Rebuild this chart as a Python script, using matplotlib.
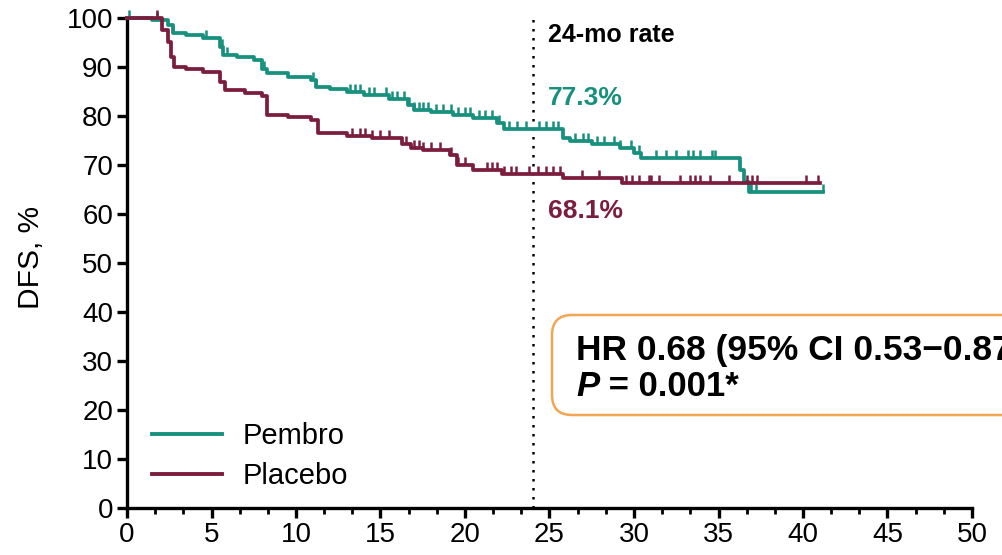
"""Kaplan-Meier DFS plot, pembro vs placebo"""

import numpy as np
import matplotlib.pyplot as plt
from matplotlib.patches import FancyBboxPatch
from matplotlib.text import Annotation
from matplotlib.ticker import MultipleLocator

plt.rcParams['font.family'] = ['Liberation Sans', 'DejaVu Sans']

# step curves: time (months) and DFS (%) after each step
pembro_t = [0, 1.5, 2.4, 2.7, 3.5, 4.5, 5.5, 5.7, 6.5, 7.5, 8.0, 8.3, 9.5, 10.9, 11.2, 12.0,
            13.0, 14.0, 15.5, 16.6, 17.0, 18.0, 19.3, 20.5, 21.9, 22.3, 25.8, 26.2, 27.5,
            29.2, 30.0, 30.4, 36.3, 36.5, 36.8, 41.2]
pembro_s = [100, 99.5, 98.5, 97.0, 96.5, 96.0, 94.0, 92.4, 92.0, 91.4, 89.5, 88.7, 88.0, 87.3,
            86.0, 85.5, 84.8, 84.3, 83.5, 82.3, 81.2, 80.8, 80.3, 79.6, 78.5, 77.3, 75.5, 74.8,
            74.2, 73.5, 72.4, 71.4, 69.0, 66.5, 64.5, 64.5]
placebo_t = [0, 2.1, 2.4, 2.6, 2.8, 3.5, 4.5, 5.5, 5.8, 7.0, 8.0, 8.3, 9.5, 10.9, 11.3, 13.0,
             14.5, 16.3, 16.8, 17.5, 19.1, 19.5, 20.5, 22.2, 25.8, 29.3, 41.0]
placebo_s = [100, 97.5, 95.0, 92.0, 90.0, 89.5, 89.0, 87.0, 85.3, 84.7, 84.0, 80.2, 79.7, 79.2,
             76.5, 76.0, 75.5, 74.3, 73.5, 73.0, 72.0, 70.0, 69.0, 68.1, 67.3, 66.3, 66.3]

# censoring times
pembro_cens = [0.1, 1.8, 2.7, 4.7, 5.6, 5.9, 8.1, 11.0, 11.2, 13.2, 13.5, 13.8, 14.3, 14.6,
               15.3, 15.7, 16.0, 16.4, 16.7, 17.0, 17.3, 17.5, 17.8, 18.3, 18.7, 19.2, 19.6,
               20.0, 20.3, 20.8, 21.2, 21.6, 22.0, 22.6, 23.1, 23.6, 24.4, 24.8, 25.2, 25.5,
               26.5, 27.0, 27.3, 27.8, 28.2, 28.8, 29.2, 29.8, 30.3, 31.3, 31.9, 32.5, 33.2,
               33.5, 33.9, 34.6, 34.8, 36.9, 37.2, 41.2]
placebo_cens = [1.8, 13.3, 13.8, 14.1, 14.5, 15.0, 15.5, 16.5, 17.0, 17.3, 17.5, 18.0, 18.5,
                19.2, 19.6, 20.0, 21.3, 21.6, 21.9, 22.3, 22.7, 23.0, 23.8, 24.3, 24.8, 25.2,
                25.6, 26.9, 27.9, 29.5, 29.9, 30.3, 30.9, 31.0, 31.5, 32.7, 33.3, 33.6, 33.9,
                34.5, 35.6, 36.7, 37.0, 37.3, 40.2, 40.9]

rate_24 = {"Pembro": 77.3, "Placebo": 68.1}

TEAL = "#17907e"
MAROON = "#7c1d3e"

W, H = 1002, 555
fig = plt.figure(figsize=(W / 100, H / 100), dpi=100)
ax = fig.add_axes([127 / W, 47 / H, 845 / W, 490 / H])


def surv_at(times, surv, t):
    idx = np.searchsorted(times, t, side="right") - 1
    return np.asarray(surv)[idx]


for t, s, cens, col, lab in [(pembro_t, pembro_s, pembro_cens, TEAL, "Pembro"),
                             (placebo_t, placebo_s, placebo_cens, MAROON, "Placebo")]:
    ax.step(t, s, where="post", color=col, lw=2.7, label=lab, clip_on=False, zorder=3)
    ax.plot(cens, surv_at(t, s, cens), ls="none", marker=2, ms=6, mew=1.8,
            color=col, clip_on=False, zorder=3)

ax.axvline(24, color="black", ls=(0, (1, 2.6)), lw=1.8, zorder=2)

ax.set_xlim(0, 50)
ax.set_ylim(0, 100)
ax.xaxis.set_major_locator(MultipleLocator(5))
ax.xaxis.set_minor_locator(MultipleLocator(5 / 3))
ax.yaxis.set_major_locator(MultipleLocator(10))
for side in ["top", "right"]:
    ax.spines[side].set_visible(False)
for side in ["left", "bottom"]:
    ax.spines[side].set_linewidth(2.4)
ax.tick_params(which="major", length=7, width=2.4, labelsize=20, pad=3)
ax.tick_params(which="minor", length=4, width=2.0)

fig.text(31 / W, 1 - 257 / H, "DFS, %", rotation=90, fontsize=21.5, ha="center", va="center")

ax.text(24.9, 95.1, "24-mo rate", fontsize=18, fontweight="bold", va="baseline")
ax.text(24.9, 82.2, f"{rate_24['Pembro']}%", fontsize=19, fontweight="bold", color=TEAL,
        va="baseline")
ax.text(24.9, 59.2, f"{rate_24['Placebo']}%", fontsize=19, fontweight="bold", color=MAROON,
        va="baseline")

leg = ax.legend(loc="upper left", bbox_to_anchor=(152 / W, 1 - 422 / H),
                bbox_transform=fig.transFigure, frameon=False, fontsize=21,
                handlelength=2.4, handletextpad=0.72, labelspacing=0.42,
                borderpad=0, borderaxespad=0)
for line in leg.get_lines():
    line.set_linewidth(2.8)

box = FancyBboxPatch((552 / W, 1 - 415 / H), 600 / W, 100 / H,
                     boxstyle="round,pad=0,rounding_size=0.02", mutation_aspect=W / H,
                     transform=fig.transFigure, fc="white", ec="#f2a552", lw=1.8,
                     clip_on=False, zorder=5)
fig.patches.append(box)
fig.text(576 / W, 1 - 360 / H, "HR 0.68 (95% CI 0.53\u22120.87)", fontsize=25.5,
         fontweight="bold", va="baseline", zorder=6)
ptxt = fig.text(576 / W, 1 - 396 / H, "P", fontsize=25, fontweight="bold",
                style="italic", va="baseline", zorder=6)
fig.add_artist(Annotation(" = 0.001*", xy=(1, 0), xycoords=ptxt, fontsize=25,
                          fontweight="bold", va="bottom", zorder=6))

fig.savefig("out.png", dpi=100)
